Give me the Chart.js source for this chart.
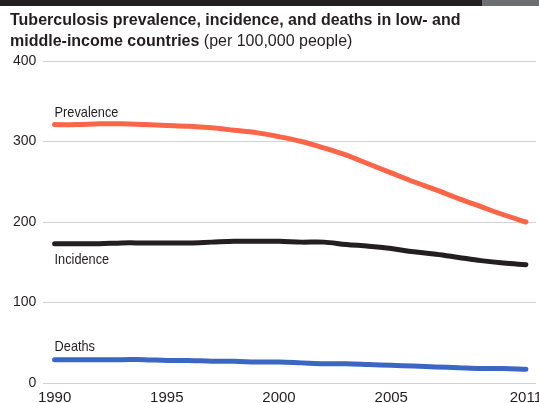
<!DOCTYPE html>
<html>
<head>
<meta charset="utf-8">
<script src="https://cdn.jsdelivr.net/npm/chart.js@4/dist/chart.umd.min.js"></script>
<style>
    html, body { margin: 0; padding: 0; width: 539px; height: 403px; overflow: hidden; background: #fff; }
    #topbar { position: absolute; left: 0; top: 0; width: 482px; height: 6px; background: #231f20; }
    #topbar2 { position: absolute; left: 482px; top: 0; width: 57px; height: 6px; background: #6d6e70; }
    #title { position: absolute; left: 10px; top: 9px; font-family: "Liberation Sans", Arial, sans-serif; font-size: 16px; line-height: 21px; color: #231f20; }
    #title b { font-weight: bold; }
    #wrap { position: absolute; left: 0; top: 0; width: 555px; height: 403px; }
</style>
</head>
<body>
<div id="topbar"></div><div id="topbar2"></div>
<div id="wrap"><canvas id="tbChart"></canvas></div>
<div id="title"><b>Tuberculosis prevalence, incidence, and deaths in low- and<br>middle-income countries</b> (per 100,000 people)</div>
<script>
// years 1990 - 2011
var years = [1990, 1991, 1992, 1993, 1994, 1995, 1996, 1997, 1998, 1999, 2000,
             2001, 2002, 2003, 2004, 2005, 2006, 2007, 2008, 2009, 2010, 2011];
var prevalence = [321, 321, 322, 322, 321, 320, 319, 317, 314, 311, 306,
                  300, 292, 283, 272, 261, 250, 240, 229, 219, 209, 200];
var incidence = [173, 173, 173, 174, 174, 174, 174, 175, 176, 176, 176,
                 175, 175, 172, 170, 167, 163, 160, 156, 152, 149, 147];
var deaths = [29, 29, 29, 29, 29, 28, 28, 27, 27, 26, 26,
              25, 24, 24, 23, 22, 21, 20, 19, 18, 18, 17];
var seriesNames = ['Prevalence', 'Incidence', 'Deaths'];
var xTickYears = [1990, 1995, 2000, 2005, 2011];
var yTickValues = [0, 100, 200, 300, 400];

function toPoints(arr) {
    return arr.map((v, i) => ({ x: years[i], y: v }));
}

// series name written next to the start of each line (condensed look)
var seriesLabels = {
    id: 'seriesLabels',
    afterDatasetsDraw(chart) {
        const c = chart.ctx;
        const xs = chart.scales.x, ys = chart.scales.y;
        const offsets = [-8, 20, -9]; // above / below the line
        const squeeze = 0.85;
        c.save();
        c.font = '15px "Liberation Sans", Arial, sans-serif';
        c.fillStyle = '#231f20';
        c.textAlign = 'left';
        c.textBaseline = 'alphabetic';
        chart.data.datasets.forEach((ds, i) => {
            const x = xs.getPixelForValue(ds.data[0].x);
            const y = ys.getPixelForValue(ds.data[0].y) + offsets[i];
            c.save();
            c.translate(x, y);
            c.scale(squeeze, 1);
            c.fillText(seriesNames[i], 0, 0);
            c.restore();
        });
        c.restore();
    }
};

var ctx = document.getElementById('tbChart').getContext('2d');
var tbChart = new Chart(ctx, {
    type: 'line',
    data: {
        datasets: [{
            label: seriesNames[0],
            data: toPoints(prevalence),
            borderColor: '#fd6548',
            borderWidth: 5
        }, {
            label: seriesNames[1],
            data: toPoints(incidence),
            borderColor: '#231f20',
            borderWidth: 5
        }, {
            label: seriesNames[2],
            data: toPoints(deaths),
            borderColor: '#3b67c3',
            borderWidth: 5
        }]
    },
    options: {
        responsive: true,
        maintainAspectRatio: false,
        animation: false,
        layout: { padding: { top: 61, left: 6, right: 19, bottom: -10 } },
        elements: {
            point: { radius: 0 },
            line: { tension: 0.35, borderCapStyle: 'round', borderJoinStyle: 'round', fill: false }
        },
        plugins: {
            legend: { display: false },
            tooltip: { enabled: false }
        },
        scales: {
            x: {
                type: 'linear',
                min: 1989.5,
                max: 2011.45,
                afterBuildTicks: axis => { axis.ticks = xTickYears.map(v => ({ value: v })); },
                grid: { display: false, drawTicks: false },
                border: { display: false },
                ticks: {
                    autoSkip: false,
                    maxRotation: 0,
                    padding: 6,
                    color: '#231f20',
                    font: { family: '"Liberation Sans", Arial, sans-serif', size: 15 },
                    callback: v => String(v)
                }
            },
            y: {
                min: 0,
                max: 400,
                afterBuildTicks: axis => { axis.ticks = yTickValues.map(v => ({ value: v })); },
                grid: { color: '#d2d2d2', lineWidth: 1, drawTicks: false },
                border: { display: false },
                ticks: {
                    padding: 7,
                    color: '#231f20',
                    font: { family: '"Liberation Sans", Arial, sans-serif', size: 14 }
                }
            }
        }
    },
    plugins: [seriesLabels]
});
</script>
</body>
</html>
